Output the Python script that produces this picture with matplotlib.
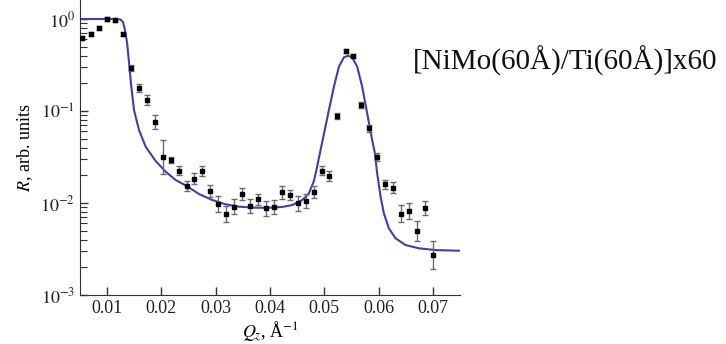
import numpy as np
import matplotlib
matplotlib.use("Agg")
import matplotlib.pyplot as plt

plt.rcParams['font.family'] = ['Liberation Serif', 'DejaVu Serif']
plt.rcParams['mathtext.fontset'] = 'stix'

# measured reflectivity (points) and error half-widths in decades
q_data = [0.00545, 0.00706, 0.00858, 0.0100, 0.01142, 0.01289, 0.01436, 0.01583,
          0.01731, 0.01878, 0.02031, 0.02172, 0.02320, 0.02467, 0.02607, 0.02754,
          0.02901, 0.03049, 0.03196, 0.03343, 0.03490, 0.03638, 0.03785, 0.03927,
          0.04068, 0.04216, 0.04363, 0.04510, 0.04657, 0.04805, 0.04952, 0.05092,
          0.05239, 0.05394, 0.05533, 0.05681, 0.05828, 0.05970, 0.06117, 0.06264,
          0.06412, 0.06559, 0.06706, 0.06853, 0.0700]
r_data = [0.617, 0.682, 0.804, 1.0, 0.983, 0.692, 0.293, 0.177, 0.132, 0.0759,
          0.0319, 0.0293, 0.0225, 0.0153, 0.0184, 0.0223, 0.0136, 0.00976, 0.00759,
          0.00912, 0.01253, 0.00927, 0.01097, 0.00875, 0.00912, 0.01306, 0.01222,
          0.00993, 0.01051, 0.01318, 0.0225, 0.0198, 0.0883, 0.452, 0.396, 0.117,
          0.0649, 0.0314, 0.0160, 0.01467, 0.00765, 0.00824, 0.00492, 0.00883, 0.00272]
r_err_dec = [0.022, 0.022, 0.022, 0.022, 0.022, 0.022, 0.033, 0.043, 0.054, 0.076,
             0.185, 0.033, 0.049, 0.051, 0.058, 0.054, 0.065, 0.082, 0.087, 0.084,
             0.068, 0.076, 0.062, 0.085, 0.076, 0.073, 0.054, 0.082, 0.076, 0.065,
             0.051, 0.054, 0.033, 0.022, 0.022, 0.033, 0.036, 0.043, 0.049, 0.058,
             0.095, 0.089, 0.109, 0.076, 0.149]

# model fit curve
q_fit = [0.005, 0.01184, 0.01248, 0.01294, 0.01331, 0.01368, 0.01405, 0.01442,
         0.01497, 0.01589, 0.01712, 0.01896, 0.02080, 0.02264, 0.02467, 0.02693,
         0.02938, 0.03185, 0.03430, 0.03737, 0.03982, 0.04221, 0.04411, 0.04595,
         0.04718, 0.04810, 0.04856, 0.04902, 0.04948, 0.04994, 0.05086, 0.05178,
         0.05270, 0.05362, 0.05441, 0.05515, 0.05607, 0.05699, 0.05791, 0.05883,
         0.05933, 0.05975, 0.06038, 0.06098, 0.06190, 0.06314, 0.06498, 0.06743,
         0.07050, 0.07479]
r_fit = [1.0, 1.0, 0.988, 0.928, 0.759, 0.562, 0.341, 0.1965, 0.1025, 0.0621,
         0.0409, 0.0286, 0.0219, 0.01778, 0.01531, 0.01253, 0.01078, 0.00968,
         0.00912, 0.00889, 0.00889, 0.00905, 0.00951, 0.01078, 0.01274, 0.01734,
         0.02284, 0.0308, 0.0417, 0.0562, 0.1025, 0.1837, 0.303, 0.3835, 0.399,
         0.3835, 0.303, 0.1837, 0.0944, 0.0484, 0.0347, 0.0210, 0.0117, 0.00772,
         0.00531, 0.00413, 0.00349, 0.00322, 0.00308, 0.00303]

r = np.array(r_data)
f = 10 ** np.array(r_err_dec)
yerr = [r - r / f, r * f - r]

fig = plt.figure(figsize=(7.26, 3.44), dpi=100)
ax = fig.add_axes([0.110, 0.1424, 0.5236, 0.8576])

ax.plot(q_fit, r_fit, color='#3d3fb3', lw=1.5, zorder=2)
ax.errorbar(q_data, r_data, yerr=yerr, fmt='s', color='black', ms=3.5,
            ecolor='0.42', elinewidth=1.0, capsize=2.5, capthick=1.0, zorder=3)

ax.set_yscale('log')
ax.set_xlim(0.005, 0.075)
ax.set_ylim(1e-3, 1.61)
ax.set_xticks([0.01, 0.02, 0.03, 0.04, 0.05, 0.06, 0.07])
ax.set_xticklabels(['0.01', '0.02', '0.03', '0.04', '0.05', '0.06', '0.07'])
ax.set_yticks([1e-3, 1e-2, 1e-1, 1])
ax.set_yticklabels([r'$10^{-3}$', r'$10^{-2}$', r'$10^{-1}$', r'$10^{0}$'])

for s in ['top', 'right']:
    ax.spines[s].set_visible(False)
for s in ['left', 'bottom']:
    ax.spines[s].set_color('#333333')
ax.tick_params(which='both', direction='in', colors='#333333', labelcolor='#222222',
               labelsize=13)
ax.tick_params(which='major', length=6, width=1.0)
ax.tick_params(which='minor', length=5, width=0.8)
ax.tick_params(axis='x', which='minor', bottom=False)

ax.set_xlabel(r'$Q_z$, Å$^{-1}$', fontsize=13, labelpad=2)
ax.set_ylabel(r'$R$, arb. units', fontsize=13, labelpad=4)

fig.text(413 / 726, 1 - 70 / 344, '[NiMo(60Å)/Ti(60Å)]x60', fontsize=21,
         va='baseline', ha='left', color='#111111')

fig.savefig('out.png', dpi=100)
